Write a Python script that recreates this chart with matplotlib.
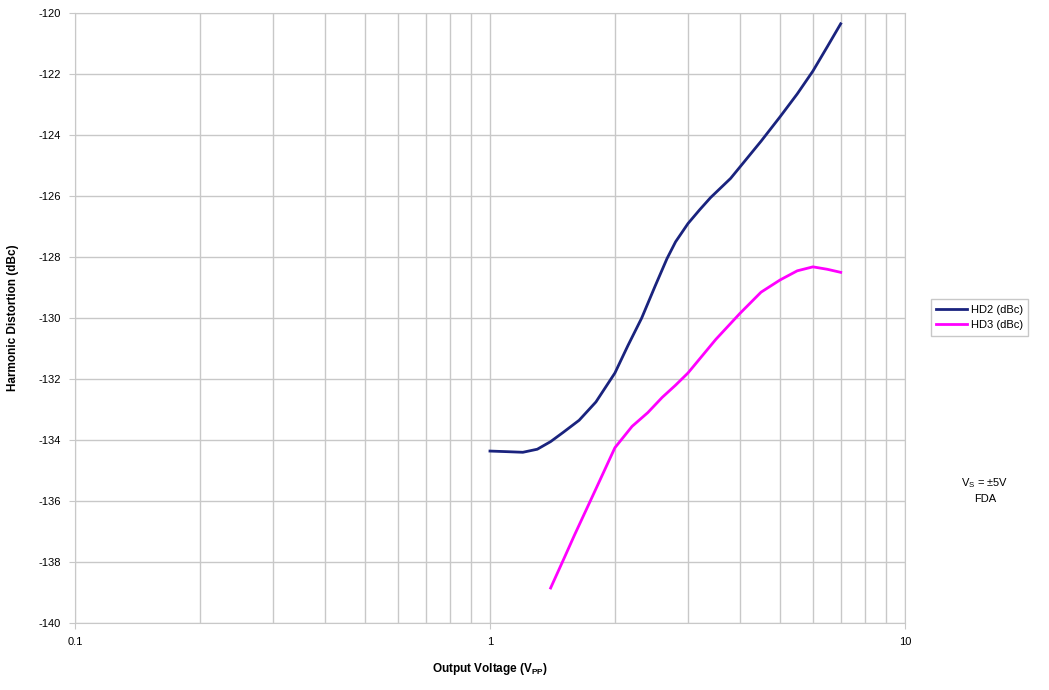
import matplotlib
matplotlib.use("Agg")
import matplotlib.pyplot as plt
from matplotlib.ticker import FixedLocator, NullFormatter

plt.rcParams['font.family'] = ['Liberation Sans', 'DejaVu Sans']

# Data
hd2_x = [1.0, 1.1, 1.2, 1.3, 1.4, 1.5, 1.64, 1.8, 2.0, 2.15, 2.32, 2.5, 2.67, 2.8, 3.0, 3.2, 3.4, 3.8, 4.0, 4.5, 5.0, 5.5, 6.0, 6.5, 7.0]
hd2_y = [-134.36, -134.38, -134.4, -134.3, -134.05, -133.75, -133.35, -132.75, -131.8, -130.9, -130.0, -128.95, -128.05, -127.5, -126.9, -126.45, -126.05, -125.42, -125.05, -124.2, -123.4, -122.65, -121.9, -121.1, -120.35]

hd3_x = [1.4, 1.5, 1.6, 1.8, 2.0, 2.2, 2.4, 2.6, 2.8, 3.0, 3.5, 4.0, 4.5, 5.0, 5.5, 6.0, 6.5, 7.0]
hd3_y = [-138.85, -137.95, -137.1, -135.6, -134.25, -133.55, -133.1, -132.6, -132.2, -131.8, -130.7, -129.85, -129.15, -128.75, -128.45, -128.32, -128.4, -128.5]

yticks = list(range(-140, -119, 2))
xticks_major = [0.1, 1, 10]
xticks_minor = [0.2, 0.3, 0.4, 0.5, 0.6, 0.7, 0.8, 0.9, 2, 3, 4, 5, 6, 7, 8, 9]

fig = plt.figure(figsize=(10.49, 6.9), dpi=100)
ax = fig.add_axes([0.0715, 0.097, 0.7912, 0.884])

ax.plot(hd2_x, hd2_y, color='#1a237e', lw=2.0, label='HD2 (dBc)')
ax.plot(hd3_x, hd3_y, color='#ff00ff', lw=2.0, label='HD3 (dBc)')

ax.set_xscale('log')
ax.set_xlim(0.1, 10)
ax.set_ylim(-140, -120)
ax.xaxis.set_major_locator(FixedLocator(xticks_major))
ax.xaxis.set_minor_locator(FixedLocator(xticks_minor))
ax.xaxis.set_minor_formatter(NullFormatter())
ax.set_xticklabels(['0.1', '1', '10'])
ax.set_yticks(yticks)
ax.set_yticklabels([str(t) for t in yticks])
ax.grid(True, which='both', color='#c8c8c8', lw=1.0)
ax.set_axisbelow(True)
for s in ax.spines.values():
    s.set_color('#c8c8c8')
ax.tick_params(axis='both', which='both', labelsize=8, color='#c8c8c8', length=4, pad=6)
ax.tick_params(axis='x', which='minor', length=0)

ax.set_xlabel('Output Voltage (V$\\mathregular{_{PP}}$)', fontsize=8.5, fontweight='bold', labelpad=10)
ax.set_ylabel('Harmonic Distortion (dBc)', fontsize=8.5, fontweight='bold', labelpad=14)

leg = fig.legend(loc='center left', bbox_to_anchor=(0.882, 0.54), fontsize=8,
                 frameon=True, fancybox=False, edgecolor='#bbbbbb',
                 handlelength=2.8, handletextpad=0.3, borderpad=0.5, labelspacing=0.5)

fig.text(0.939, 0.29, 'V$\\mathregular{_S}$ = ±5V\nFDA', ha='center', va='center', fontsize=8, linespacing=1.5)

fig.savefig('out.png', dpi=100)
